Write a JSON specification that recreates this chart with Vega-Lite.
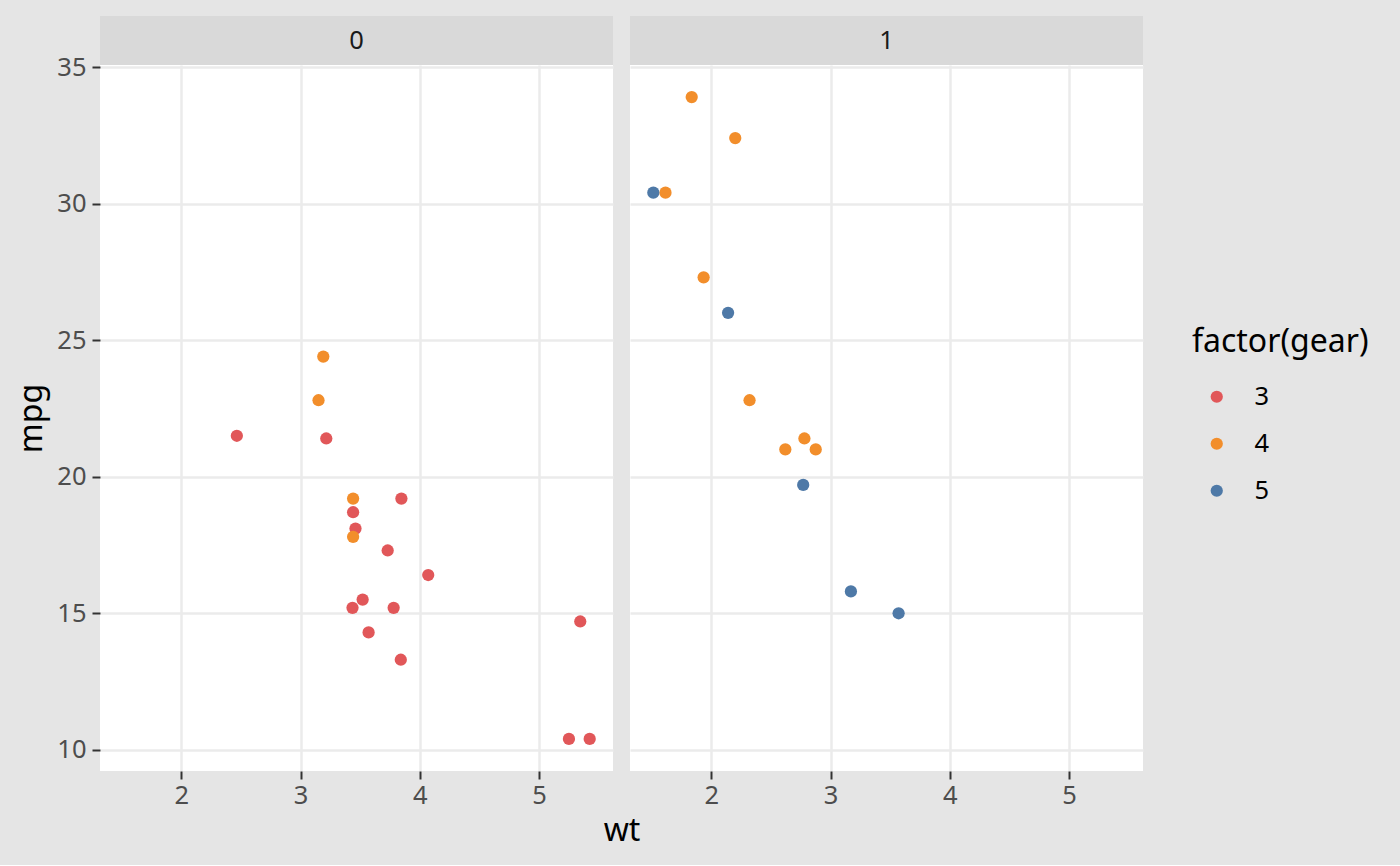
{
  "$schema": "https://vega.github.io/schema/vega-lite/v6.json",
  "background": "#E5E5E5",
  "padding": {"left": 15, "top": 16, "right": 35, "bottom": 18},
  "datasets": {
    "mtcars": [
      {"car": "Mazda RX4", "mpg": 21.0, "wt": 2.620, "am": 1, "gear": 4},
      {"car": "Mazda RX4 Wag", "mpg": 21.0, "wt": 2.875, "am": 1, "gear": 4},
      {"car": "Datsun 710", "mpg": 22.8, "wt": 2.320, "am": 1, "gear": 4},
      {"car": "Hornet 4 Drive", "mpg": 21.4, "wt": 3.215, "am": 0, "gear": 3},
      {"car": "Hornet Sportabout", "mpg": 18.7, "wt": 3.440, "am": 0, "gear": 3},
      {"car": "Valiant", "mpg": 18.1, "wt": 3.460, "am": 0, "gear": 3},
      {"car": "Duster 360", "mpg": 14.3, "wt": 3.570, "am": 0, "gear": 3},
      {"car": "Merc 240D", "mpg": 24.4, "wt": 3.190, "am": 0, "gear": 4},
      {"car": "Merc 230", "mpg": 22.8, "wt": 3.150, "am": 0, "gear": 4},
      {"car": "Merc 280", "mpg": 19.2, "wt": 3.440, "am": 0, "gear": 4},
      {"car": "Merc 280C", "mpg": 17.8, "wt": 3.440, "am": 0, "gear": 4},
      {"car": "Merc 450SE", "mpg": 16.4, "wt": 4.070, "am": 0, "gear": 3},
      {"car": "Merc 450SL", "mpg": 17.3, "wt": 3.730, "am": 0, "gear": 3},
      {"car": "Merc 450SLC", "mpg": 15.2, "wt": 3.780, "am": 0, "gear": 3},
      {"car": "Cadillac Fleetwood", "mpg": 10.4, "wt": 5.250, "am": 0, "gear": 3},
      {"car": "Lincoln Continental", "mpg": 10.4, "wt": 5.424, "am": 0, "gear": 3},
      {"car": "Chrysler Imperial", "mpg": 14.7, "wt": 5.345, "am": 0, "gear": 3},
      {"car": "Fiat 128", "mpg": 32.4, "wt": 2.200, "am": 1, "gear": 4},
      {"car": "Honda Civic", "mpg": 30.4, "wt": 1.615, "am": 1, "gear": 4},
      {"car": "Toyota Corolla", "mpg": 33.9, "wt": 1.835, "am": 1, "gear": 4},
      {"car": "Toyota Corona", "mpg": 21.5, "wt": 2.465, "am": 0, "gear": 3},
      {"car": "Dodge Challenger", "mpg": 15.5, "wt": 3.520, "am": 0, "gear": 3},
      {"car": "AMC Javelin", "mpg": 15.2, "wt": 3.435, "am": 0, "gear": 3},
      {"car": "Camaro Z28", "mpg": 13.3, "wt": 3.840, "am": 0, "gear": 3},
      {"car": "Pontiac Firebird", "mpg": 19.2, "wt": 3.845, "am": 0, "gear": 3},
      {"car": "Fiat X1-9", "mpg": 27.3, "wt": 1.935, "am": 1, "gear": 4},
      {"car": "Porsche 914-2", "mpg": 26.0, "wt": 2.140, "am": 1, "gear": 5},
      {"car": "Lotus Europa", "mpg": 30.4, "wt": 1.513, "am": 1, "gear": 5},
      {"car": "Ford Pantera L", "mpg": 15.8, "wt": 3.170, "am": 1, "gear": 5},
      {"car": "Ferrari Dino", "mpg": 19.7, "wt": 2.770, "am": 1, "gear": 5},
      {"car": "Maserati Bora", "mpg": 15.0, "wt": 3.570, "am": 1, "gear": 5},
      {"car": "Volvo 142E", "mpg": 21.4, "wt": 2.780, "am": 1, "gear": 4}
    ],
    "strips": [{"am": "0"}, {"am": "1"}]
  },
  "columns": 2,
  "spacing": {"row": 0, "column": 17},
  "bounds": "flush",
  "concat": [
    {
      "width": 513, "height": 49,
      "data": {"name": "strips"},
      "transform": [{"filter": "datum.am == '0'"}],
      "mark": {"type": "text", "fontSize": 25.5, "color": "#1A1A1A", "baseline": "middle", "align": "center"},
      "encoding": {"text": {"field": "am", "type": "nominal"}},
      "view": {"fill": "#D9D9D9", "stroke": null}
    },
    {
      "width": 513, "height": 49,
      "data": {"name": "strips"},
      "transform": [{"filter": "datum.am == '1'"}],
      "mark": {"type": "text", "fontSize": 25.5, "color": "#1A1A1A", "baseline": "middle", "align": "center"},
      "encoding": {"text": {"field": "am", "type": "nominal"}},
      "view": {"fill": "#D9D9D9", "stroke": null}
    },
    {
      "width": 513, "height": 706,
      "data": {"name": "mtcars"},
      "transform": [{"filter": "datum.am == 0"}],
      "mark": {"type": "point", "filled": true, "size": 150, "opacity": 1},
      "encoding": {
        "x": {"field": "wt", "type": "quantitative",
              "scale": {"domain": [1.31745, 5.61955], "nice": false, "zero": false},
              "axis": {"values": [2, 3, 4, 5], "title": "wt", "titleX": 521.5}},
        "y": {"field": "mpg", "type": "quantitative",
              "scale": {"domain": [9.225, 35.075], "nice": false, "zero": false},
              "axis": {"values": [10, 15, 20, 25, 30, 35], "title": "mpg"}},
        "color": {"field": "gear", "type": "nominal",
                  "scale": {"domain": [3, 4, 5], "range": ["#E15759", "#F28E2B", "#4E79A7"]},
                  "legend": {"title": "factor(gear)", "orient": "none", "legendX": 1092, "legendY": 311,
                             "symbolOffset": 12, "labelOffset": 25, "rowPadding": 20, "titlePadding": 25,
                             "symbolSize": 150, "symbolType": "circle", "symbolStrokeWidth": 0, "padding": 0}}
      },
      "view": {"fill": "white", "stroke": null}
    },
    {
      "width": 513, "height": 706,
      "data": {"name": "mtcars"},
      "transform": [{"filter": "datum.am == 1"}],
      "mark": {"type": "point", "filled": true, "size": 150, "opacity": 1},
      "encoding": {
        "x": {"field": "wt", "type": "quantitative",
              "scale": {"domain": [1.31745, 5.61955], "nice": false, "zero": false},
              "axis": {"values": [2, 3, 4, 5], "title": null}},
        "y": {"field": "mpg", "type": "quantitative",
              "scale": {"domain": [9.225, 35.075], "nice": false, "zero": false},
              "axis": {"values": [10, 15, 20, 25, 30, 35], "title": null, "labels": false, "ticks": false}},
        "color": {"field": "gear", "type": "nominal",
                  "scale": {"domain": [3, 4, 5], "range": ["#E15759", "#F28E2B", "#4E79A7"]},
                  "legend": {"title": "factor(gear)", "orient": "none", "legendX": 1092, "legendY": 311,
                             "symbolOffset": 12, "labelOffset": 25, "rowPadding": 20, "titlePadding": 25,
                             "symbolSize": 150, "symbolType": "circle", "symbolStrokeWidth": 0, "padding": 0}}
      },
      "view": {"fill": "white", "stroke": null}
    }
  ],
  "config": {
    "font": "Noto Sans",
    "view": {"stroke": null},
    "axis": {
      "domain": false,
      "grid": true,
      "gridColor": "#EBEBEB",
      "gridWidth": 2.5,
      "tickColor": "#333333",
      "tickWidth": 2,
      "tickSize": 8,
      "labelFontSize": 25.5,
      "labelColor": "#4D4D4D",
      "labelFont": "Noto Sans",
      "titleFont": "Noto Sans",
      "titleFontSize": 32,
      "titleFontWeight": "normal",
      "titleColor": "#000000"
    },
    "axisX": {"labelPadding": 4, "titlePadding": 7},
    "axisY": {"labelPadding": 6, "titlePadding": 8},
    "legend": {
      "titleFontSize": 32,
      "titleFontWeight": "normal",
      "titleColor": "#000000",
      "titleFont": "Noto Sans",
      "labelFontSize": 25.5,
      "labelColor": "#000000",
      "labelFont": "Noto Sans"
    }
  }
}
